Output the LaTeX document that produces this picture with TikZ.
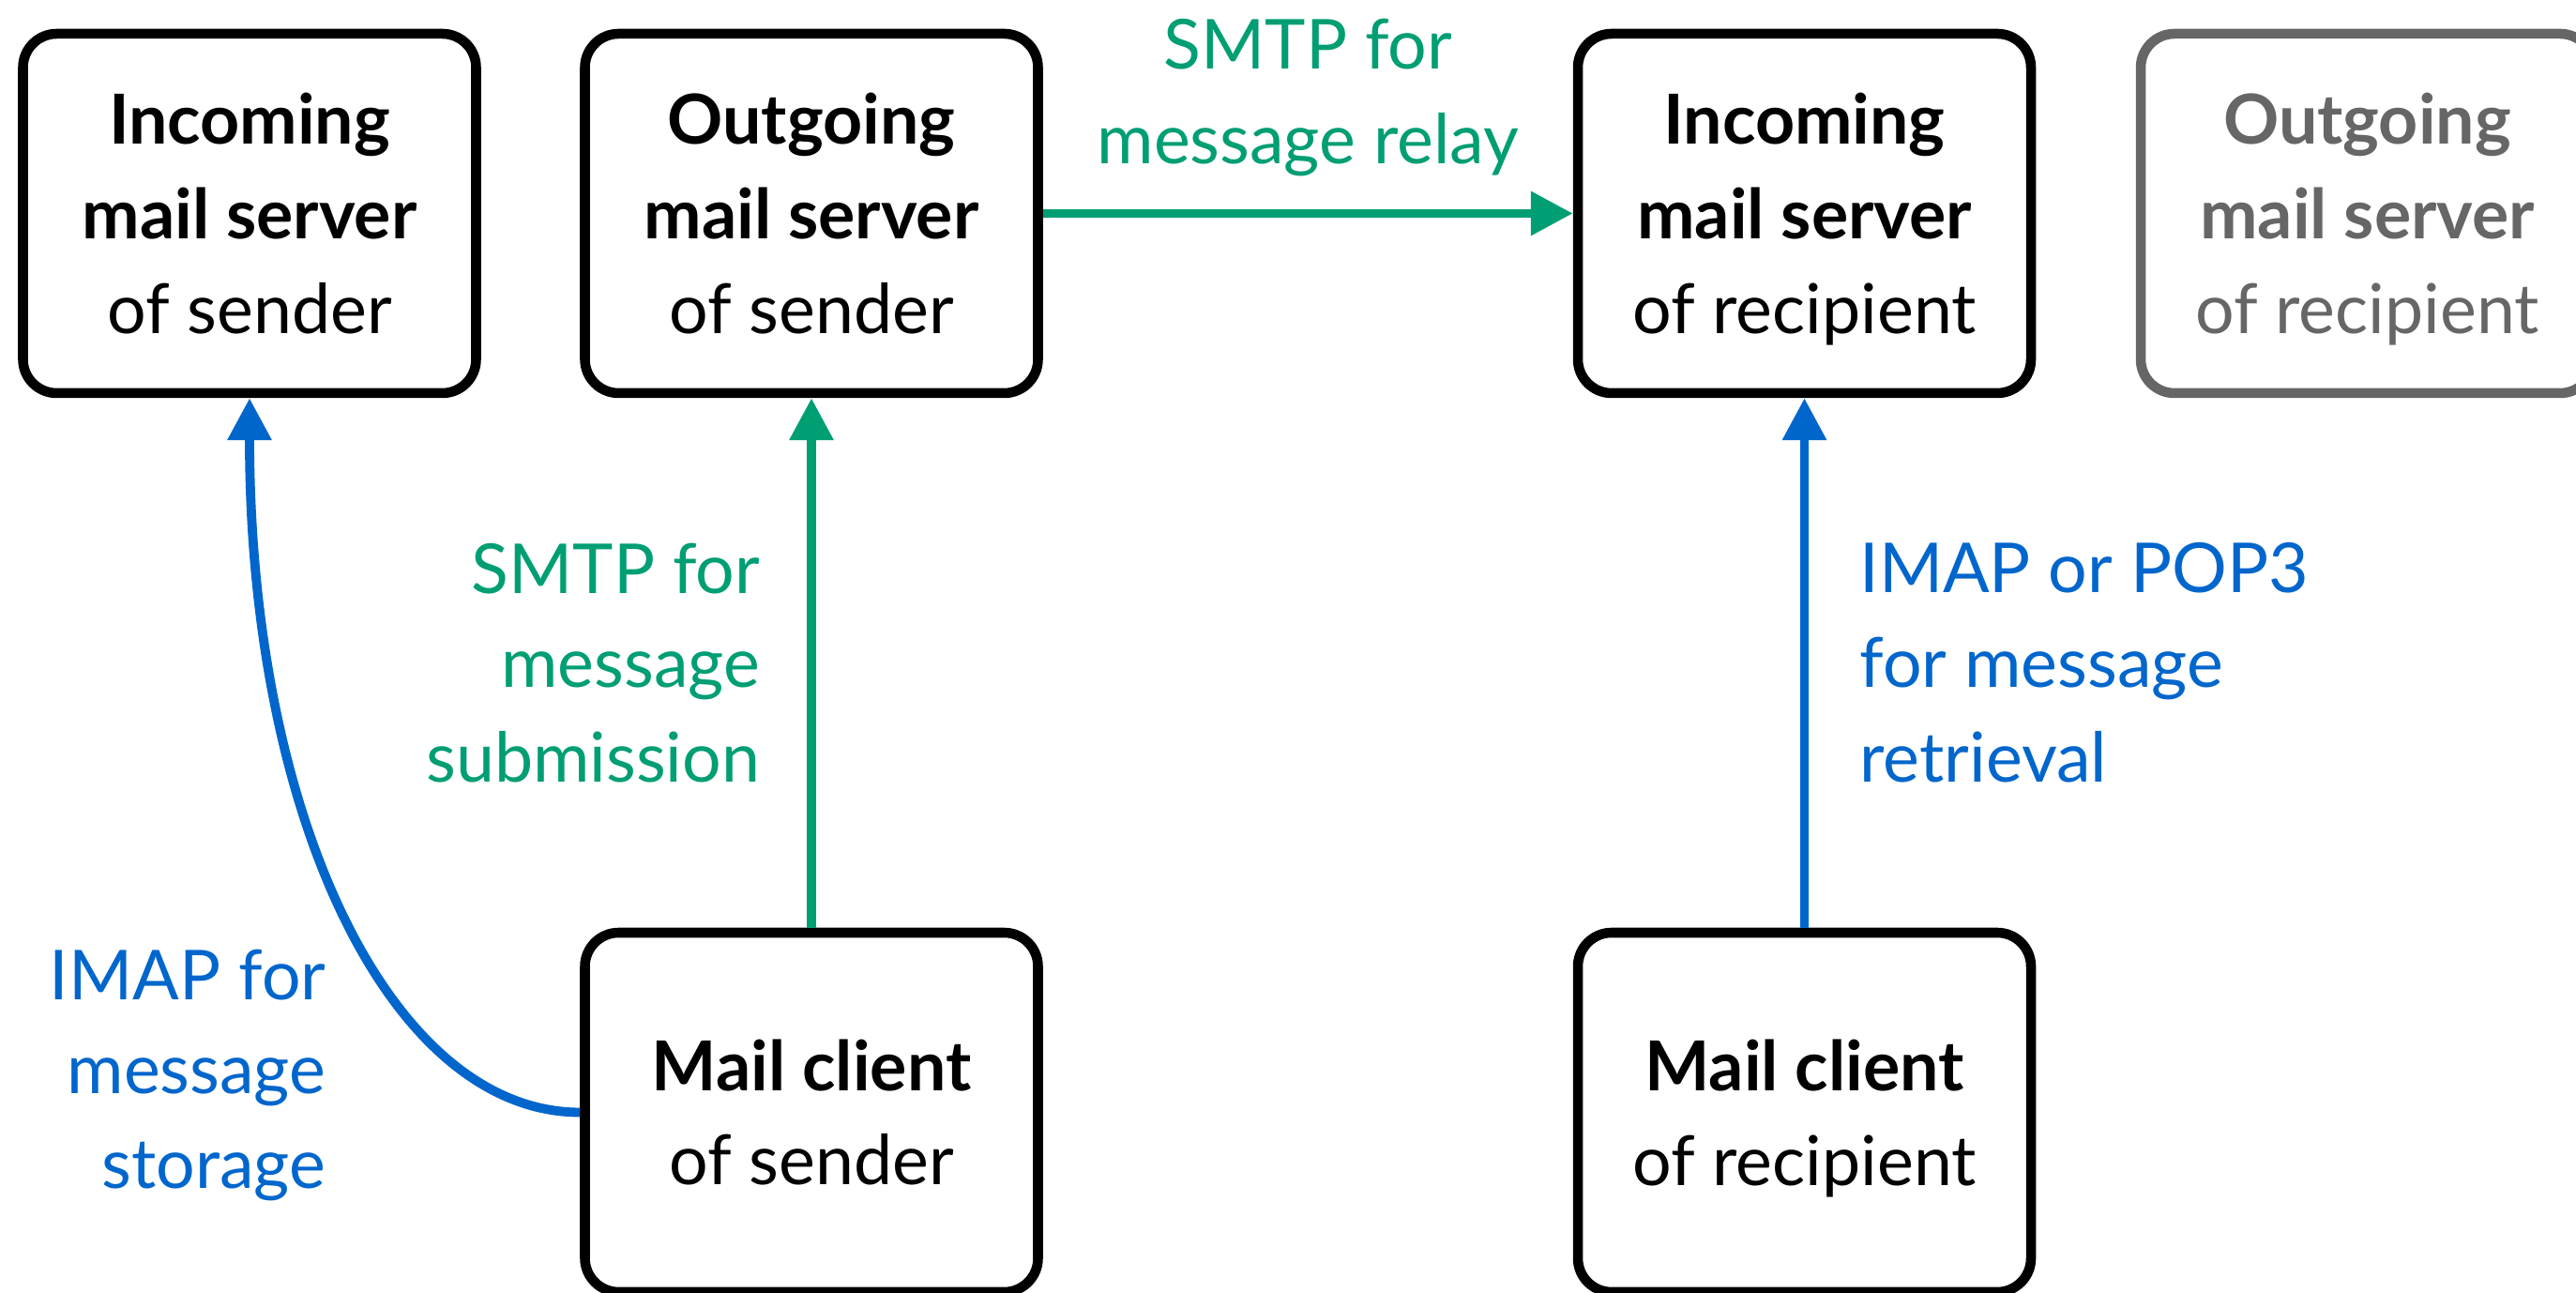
\documentclass[tikz,border=0pt]{standalone}
\usepackage{amsmath}
\usepackage{fontspec}
\setmainfont{Lato}
\usepackage{xcolor}
\usepackage{tikz}
\usetikzlibrary{arrows.meta}
\definecolor{smtpgreen}{HTML}{009E73}
\definecolor{imapblue}{HTML}{0066CC}
\definecolor{muted}{HTML}{666666}
\newcommand{\diagfont}{\fontsize{20.9pt}{28.7pt}\selectfont}
\tikzset{
  server/.style={draw=black, line width=3pt, rounded corners=3.6mm, minimum width=4.83cm, minimum height=3.83cm, align=center, font=\diagfont, inner sep=0pt},
  ghost/.style={server, draw=muted, text=muted},
  smtp/.style={color=smtpgreen, line width=2.8pt, -{Triangle[length=4.5mm, width=4.5mm]}},
  imap/.style={color=imapblue, line width=2.8pt, -{Triangle[length=4.5mm, width=4.5mm]}},
  lab/.style={font=\diagfont, inner sep=0pt},
}

\begin{document}
\begin{tikzpicture}
\useasboundingbox (0,0) rectangle (27.46,13.78);
\clip (0,0) rectangle (27.46,13.78);

% servers
\node[server] (in1) at (2.66,11.505) {\textbf{Incoming}\\\textbf{mail server}\\of sender};
\node[server] (out1) at (8.65,11.505) {\textbf{Outgoing}\\\textbf{mail server}\\of sender};
\node[server] (in2) at (19.235,11.505) {\textbf{Incoming}\\\textbf{mail server}\\\smash[b]{of recipient}};
\node[ghost] (out2) at (25.235,11.505) {\textbf{Outgoing}\\\textbf{mail server}\\\smash[b]{of recipient}};

% clients
\node[server] (client1) at (8.65,1.925) {\textbf{Mail client}\\of sender};
\node[server] (client2) at (19.235,1.925) {\textbf{Mail client}\\\smash[b]{of recipient}};

\draw[smtp] (out1) -- node[lab, above=0.35cm, text=smtpgreen, align=center] (relaylab) {SMTP for\\message relay} (in2);
\draw[smtp] (client1) -- node[lab, left=0.50cm, text=smtpgreen, align=right] (submitlab) {SMTP for\\message\\submission} (out1);
\draw[imap] (client2) -- node[lab, right=0.54cm, text=imapblue, align=left] (retrievelab) {IMAP or POP3\\for message\\retrieval} (in2);
\draw[imap] (client1.west) to[out=180, in=-90, out distance=2cm, in distance=4.5cm] (in1.south);
\node[lab, text=imapblue, align=right, anchor=east] (storelab) at (3.48,2.32) {IMAP for\\message\\storage};
\end{tikzpicture}
\end{document}
